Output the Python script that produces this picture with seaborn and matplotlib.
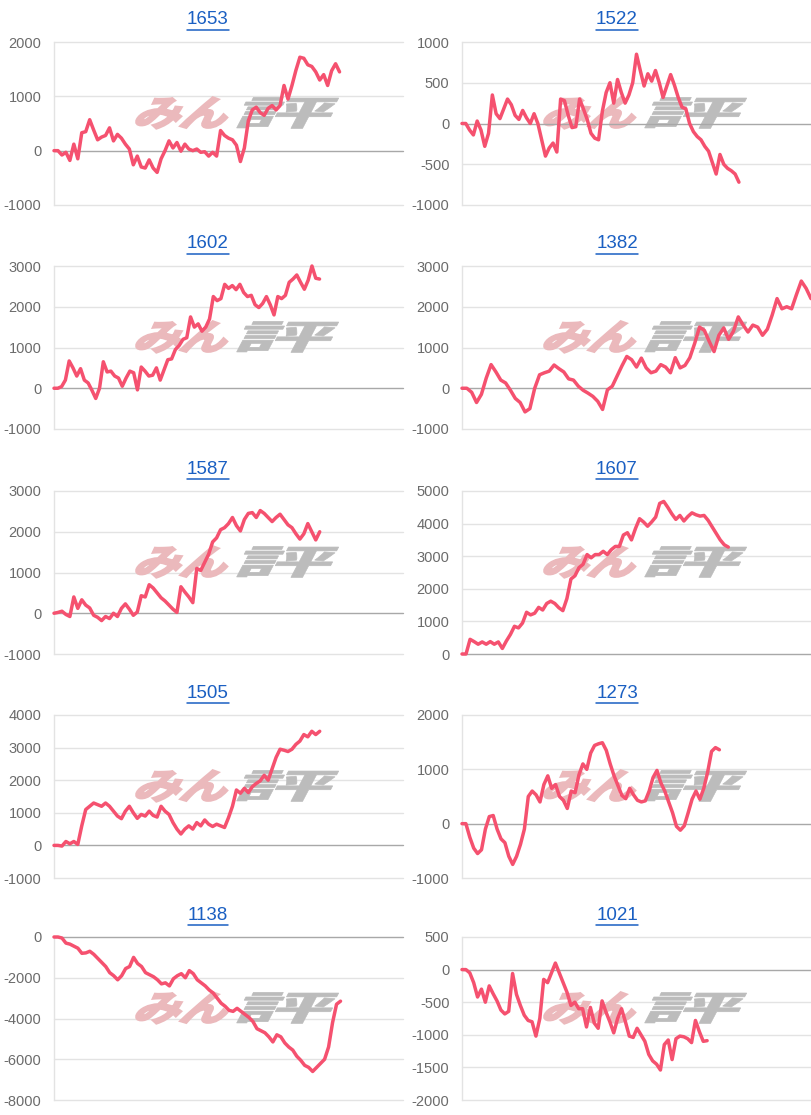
import numpy as np
import pandas as pd
import seaborn as sns
import matplotlib.pyplot as plt
import matplotlib.transforms as mtransforms
from matplotlib.textpath import TextPath
from matplotlib.patches import PathPatch
from matplotlib.font_manager import FontProperties
from matplotlib.lines import Line2D

sns.set_theme(style="white")
plt.rcParams["font.family"] = ["Liberation Sans", "DejaVu Sans"]

# chart titles, left column first then right column, row by row
titles = ["1653", "1522", "1602", "1382", "1587", "1607", "1505", "1273", "1138", "1021"]

s1653 = [0, 0, -80, -30, -180, 120, -150, 330, 350, 570,
         380, 200, 250, 280, 420, 180, 300, 230, 120, 30,
         -260, -100, -300, -320, -170, -320, -400, -150, 0, 180,
         50, 150, -10, 120, 30, 0, 30, -30, -20, -100,
         -30, -100, 370, 280, 230, 200, 100, -200, 50, 550,
         750, 800, 700, 650, 780, 830, 750, 830, 1200, 950,
         1200, 1480, 1720, 1700, 1580, 1550, 1450, 1300, 1400, 1200,
         1470, 1600, 1450]
s1522 = [0, 0, -80, -140, 30, -80, -280, -120, 350, 120,
         60, 180, 300, 230, 100, 50, 160, 70, 0, 120,
         0, -200, -400, -300, -240, -350, 300, 280, 100, -50,
         -40, 300, 180, 50, -120, -180, -200, 150, 380, 500,
         250, 540, 380, 250, 350, 500, 850, 650, 460, 610,
         520, 650, 500, 320, 460, 600, 470, 320, 200, 180,
         0, -100, -160, -200, -280, -340, -480, -620, -380, -500,
         -550, -580, -620, -720]
s1602 = [0, 0, 40, 200, 670, 500, 300, 480, 200, 130,
         -50, -250, 0, 650, 400, 420, 300, 250, 50, 250,
         420, 380, -40, 520, 420, 300, 320, 500, 200, 450,
         700, 720, 950, 1050, 1200, 1240, 1750, 1500, 1580, 1400,
         1500, 1700, 2250, 2150, 2200, 2550, 2450, 2520, 2420, 2550,
         2350, 2250, 2280, 2050, 1980, 2080, 2250, 2050, 1800, 2250,
         2200, 2280, 2600, 2680, 2780, 2600, 2430, 2650, 3000, 2700,
         2680]
s1382 = [0, 0, -100, -350, -150, 250, 580, 400, 200, 130,
         -50, -250, -350, -580, -500, 0, 330, 380, 420, 570,
         480, 400, 230, 200, 50, -50, -120, -200, -320, -520,
         -40, 50, 300, 550, 780, 700, 520, 740, 500, 380,
         420, 580, 520, 380, 750, 500, 560, 750, 1100, 1500,
         1420, 1150, 900, 1300, 1480, 1200, 1400, 1750, 1550, 1380,
         1550, 1500, 1300, 1450, 1800, 2200, 1950, 2000, 1950, 2300,
         2630, 2450, 2200]
s1587 = [0, 20, 50, -30, -80, 400, 120, 330, 200, 130,
         -50, -100, -180, -80, -130, 0, -80, 120, 230, 100,
         -50, 30, 430, 400, 700, 620, 500, 380, 300, 200,
         100, 20, 650, 520, 400, 260, 1100, 1050, 1250, 1450,
         1750, 1850, 2050, 2100, 2200, 2350, 2150, 2020, 2300, 2450,
         2470, 2350, 2520, 2450, 2350, 2250, 2350, 2430, 2300, 2170,
         2100, 1950, 1820, 1950, 2200, 2000, 1800, 2000]
s1607 = [0, 0, 450, 380, 300, 370, 300, 380, 300, 370,
         170, 400, 600, 850, 800, 950, 1280, 1200, 1250, 1430,
         1350, 1550, 1620, 1550, 1420, 1330, 1700, 2300, 2400, 2650,
         2750, 3050, 2950, 3050, 3050, 3150, 3050, 3200, 3300, 3300,
         3650, 3720, 3500, 3850, 4150, 4050, 3920, 4050, 4200, 4620,
         4680, 4500, 4300, 4130, 4250, 4080, 4220, 4330, 4270, 4230,
         4250, 4100, 3900, 3700, 3500, 3350, 3280]
s1505 = [0, 0, -20, 120, 50, 120, 30, 600, 1100, 1200,
         1300, 1250, 1200, 1300, 1200, 1050, 900, 820, 1050, 1200,
         1000, 830, 950, 900, 1050, 920, 870, 1200, 1050, 950,
         700, 500, 350, 500, 600, 500, 700, 600, 780, 650,
         580, 650, 600, 550, 850, 1200, 1700, 1600, 1750, 1620,
         1800, 1900, 1980, 2150, 2000, 2350, 2700, 2950, 2920, 2880,
         2950, 3100, 3200, 3400, 3330, 3500, 3400, 3500]
s1273 = [0, 0, -250, -450, -550, -480, -100, 130, 150, -100,
         -280, -350, -600, -750, -600, -380, -100, 500, 600, 530,
         400, 720, 880, 650, 720, 500, 430, 280, 600, 570,
         900, 1100, 1000, 1300, 1440, 1470, 1490, 1350, 1100, 880,
         700, 520, 460, 650, 530, 430, 400, 420, 600, 850,
         980, 750, 600, 400, 200, -50, -120, -40, 200, 450,
         600, 450, 650, 950, 1330, 1400, 1360]
s1138 = [0, 0, -50, -300, -350, -450, -550, -800, -780, -700,
         -850, -1050, -1250, -1450, -1750, -1900, -2100, -1900, -1550, -1450,
         -1000, -1300, -1450, -1750, -1850, -1950, -2100, -2300, -2250, -2400,
         -2050, -1900, -1800, -2000, -1650, -1800, -2100, -2250, -2400, -2600,
         -2750, -3000, -3250, -3400, -3600, -3650, -3500, -3650, -3800, -3950,
         -4150, -4500, -4600, -4700, -4900, -5150, -4800, -4900, -5200, -5400,
         -5550, -5850, -6050, -6300, -6400, -6600, -6400, -6200, -6000, -5400,
         -4200, -3300, -3150]
s1021 = [0, 0, -50, -200, -420, -300, -500, -250, -370, -480,
         -620, -680, -640, -60, -380, -550, -700, -780, -800, -1020,
         -750, -150, -200, -50, 100, -50, -200, -350, -550, -500,
         -600, -600, -880, -580, -820, -900, -480, -650, -800, -970,
         -750, -600, -800, -1020, -1040, -900, -1000, -1100, -1300, -1400,
         -1450, -1540, -1150, -1080, -1380, -1060, -1020, -1030, -1060, -1120,
         -780, -950, -1100, -1090]

series = [s1653, s1522, s1602, s1382, s1587, s1607, s1505, s1273, s1138, s1021]

# axis ranges of each chart
x_slots = [88, 92, 92, 72, 88, 86.5, 88, 89.5, 87.7, 89.7]
y_ranges = [(-1000, 2000), (-1000, 1000), (-1000, 3000), (-1000, 3000), (-1000, 3000),
            (0, 5000), (-1000, 4000), (-1000, 2000), (-8000, 0), (-2000, 500)]
y_steps = [1000, 500, 1000, 1000, 1000, 1000, 1000, 1000, 2000, 500]

LINE = "#f5516f"
W, H = 811, 1115
fig = plt.figure(figsize=(W / 100, H / 100), dpi=100)

logo_font = FontProperties(family="Noto Sans CJK JP", weight="bold")


def add_logo(ax):
    # watermark drawn behind the line
    parts = [("みん", "#ebb9bc", 0.225, 0.48, 1.8), ("評", "#bcbcbc", 0.51, 0.775, 0.5)]
    for txt, col, x0, x1, edge in parts:
        tp = TextPath((0, 0), txt, size=1, prop=logo_font)
        bb = tp.get_extents()
        tr = (mtransforms.Affine2D()
              .translate(-bb.x0, -bb.y0)
              .scale(1 / bb.width, 1 / bb.height)
              .skew_deg(10, 0)
              .scale(x1 - x0, 0.19)
              .translate(x0, 0.47)) + ax.transAxes
        ax.add_patch(PathPatch(tp, transform=tr, fc=col, ec=col, lw=edge,
                               joinstyle="miter", zorder=1))


col_left = [54, 462]
col_title = [208, 617]
row_top = [42, 266, 491, 715, 937]
ax_w, ax_h = 349, 163

title_texts = []
for i, (name, vals) in enumerate(zip(titles, series)):
    r, c = divmod(i, 2)
    top = row_top[r]
    ax = fig.add_axes([col_left[c] / W, (H - top - ax_h) / H, ax_w / W, ax_h / H])
    add_logo(ax)

    df = pd.DataFrame({"step": np.arange(len(vals)), "value": vals})
    sns.lineplot(data=df, x="step", y="value", ax=ax, color=LINE, linewidth=2.5,
                 zorder=3, clip_on=False)

    lo, hi = y_ranges[i]
    ax.set_ylim(lo, hi)
    ax.set_xlim(0, x_slots[i])
    ticks = np.arange(lo, hi + 1, y_steps[i])
    ax.set_yticks(ticks)
    ax.set_yticklabels([str(int(t)) for t in ticks])
    ax.set_xticks([])
    ax.set_xlabel("")
    ax.set_ylabel("")
    for t in ticks:
        if t == 0:
            ax.axhline(t, color="#a8a8a8", linewidth=1.0, zorder=2, clip_on=False)
        else:
            ax.axhline(t, color="#e3e3e3", linewidth=1.0, zorder=0, clip_on=False)
    for side in ["top", "right", "bottom"]:
        ax.spines[side].set_visible(False)
    ax.spines["left"].set_color("#e3e3e3")
    ax.spines["left"].set_linewidth(1.0)
    ax.tick_params(axis="y", length=0, pad=9, labelsize=10.5, labelcolor="#6b6b6b")

    t = fig.text(col_title[c] / W, (H - (top - 22)) / H, name, ha="center", va="center",
                 fontsize=13.5, color="#1a5fc2")
    title_texts.append(t)

# underline the titles like links
renderer = fig.canvas.get_renderer()
inv = fig.transFigure.inverted()
for t in title_texts:
    bb = t.get_window_extent(renderer)
    (x0, y0), (x1, _) = inv.transform([(bb.x0, bb.y0), (bb.x1, bb.y0)])
    fig.add_artist(Line2D([x0, x1], [y0 - 1.0 / H, y0 - 1.0 / H], transform=fig.transFigure,
                          color="#1a5fc2", linewidth=1.1))

fig.savefig("out.png", dpi=100)
